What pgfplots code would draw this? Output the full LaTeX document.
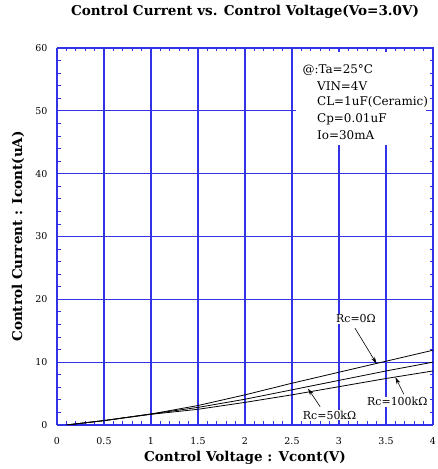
\documentclass[border=0pt]{standalone}
\usepackage{pgfplots}
\pgfplotsset{compat=1.18}
\usepackage{fontspec}
\setmainfont{DejaVu Serif}
\usetikzlibrary{arrows.meta}
\definecolor{gridblue}{RGB}{50,50,230}
\begin{document}
\begin{tikzpicture}
\begin{axis}[name=ax, scale only axis, width=376bp, height=377bp,
  xmin=0, xmax=4, ymin=0, ymax=60,
  xtick distance=0.5, ytick distance=10,
  /pgf/number format/assume math mode=true,
  minor x tick num=4, minor y tick num=4,
  grid=major,
  major grid style={gridblue, line width=1.2bp},
  axis line style={gridblue, line width=1bp},
  tick style={gridblue, line width=0.8bp},
  major tick length=5bp, minor tick length=3.5bp,
  tick align=inside,
  xticklabel style={text=black, font=\fontsize{9.5}{10}\selectfont, anchor=center, yshift=-16bp},
  yticklabel style={text=black, font=\fontsize{9.5}{10}\selectfont, anchor=east, xshift=-6bp},
  title={Control Current vs. Control Voltage(Vo=3.0V)},
  title style={font=\bfseries\fontsize{13.6}{15}\selectfont, at={(axis description cs:0.5,1)}, anchor=center, yshift=30bp},
  xlabel={Control Voltage : Vcont(V)},
  xlabel style={font=\bfseries\fontsize{13.6}{15}\selectfont, at={(axis description cs:0.5,0)}, anchor=center, yshift=-33bp},
  ylabel={Control Current : Icont(uA)},
  ylabel style={font=\bfseries\fontsize{13.6}{15}\selectfont, at={(axis description cs:0,0.5)}, anchor=center, yshift=39bp},
]
\fill[white] (axis cs:2.54,44.6) rectangle (axis cs:3.93,59.3);
% Rc = 0 ohm
\addplot[black, line width=0.8bp] coordinates {(0.1,0) (0.5,0.7) (1,1.75) (1.5,3.1) (2,4.8) (2.5,6.65) (3,8.4) (3.5,10.15) (4,11.9)};
% Rc = 50 kohm
\addplot[black, line width=0.8bp] coordinates {(0.1,0) (0.5,0.7) (1,1.75) (1.5,2.8) (2,4.1) (2.5,5.6) (3,7.1) (3.5,8.6) (4,10.0)};
% Rc = 100 kohm
\addplot[black, line width=0.8bp] coordinates {(0.1,0) (0.5,0.7) (1,1.7) (1.5,2.5) (2,3.6) (2.5,4.8) (3,6.1) (3.5,7.4) (4,8.6)};
\node[font=\fontsize{12}{13}\selectfont, anchor=base west] at (axis cs:2.575,55.9) {@:Ta=25°C};
\node[font=\fontsize{12}{13}\selectfont, anchor=base west] at (axis cs:2.73,53.3) {VIN=4V};
\node[font=\fontsize{12}{13}\selectfont, anchor=base west] at (axis cs:2.73,50.8) {CL=1uF(Ceramic)};
\node[font=\fontsize{12}{13}\selectfont, anchor=base west] at (axis cs:2.73,48.2) {Cp=0.01uF};
\node[font=\fontsize{12}{13}\selectfont, anchor=base west] at (axis cs:2.73,45.5) {Io=30mA};
\draw[black, -{Stealth[length=7bp,width=4bp]}, line width=0.6bp] (axis cs:3.17,15.4) -- (axis cs:3.4,9.75);
\draw[black, -{Stealth[length=7bp,width=4bp]}, line width=0.6bp] (axis cs:2.8,2.9) -- (axis cs:2.67,5.8);
\draw[black, -{Stealth[length=7bp,width=4bp]}, line width=0.6bp] (axis cs:3.69,4.9) -- (axis cs:3.6,7.6);
\node[font=\fontsize{11}{12}\selectfont, fill=white, inner sep=1bp] at (axis cs:3.18,16.9) {Rc=0Ω};
\node[font=\fontsize{11}{12}\selectfont, fill=white, inner sep=1bp] at (axis cs:2.9,1.6) {Rc=50kΩ};
\node[font=\fontsize{11}{12}\selectfont, fill=white, inner sep=1bp] at (axis cs:3.62,3.7) {Rc=100kΩ};
\end{axis}
\pgfresetboundingbox
\path ([shift={(-57bp,-44bp)}]ax.south west) rectangle ([shift={(5bp,48bp)}]ax.north east);
\end{tikzpicture}
\end{document}
